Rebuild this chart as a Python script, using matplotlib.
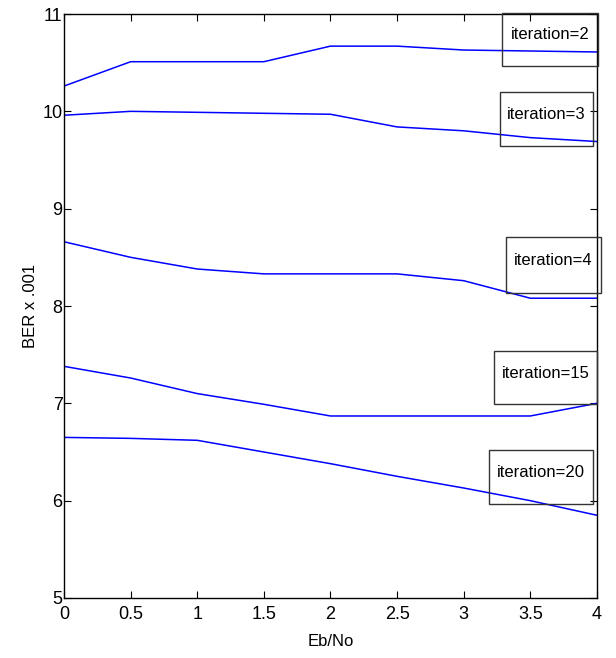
import numpy as np
import matplotlib.pyplot as plt
from matplotlib.patches import Rectangle

plt.rcParams['font.family'] = ['Liberation Sans', 'DejaVu Sans']

eb_no = [0, 0.5, 1, 1.5, 2, 2.5, 3, 3.5, 4]

ber_it2 = [10.26, 10.51, 10.51, 10.51, 10.67, 10.67, 10.63, 10.62, 10.61]
ber_it3 = [9.96, 10.0, 9.99, 9.98, 9.97, 9.84, 9.80, 9.73, 9.69]
ber_it4 = [8.66, 8.50, 8.38, 8.33, 8.33, 8.33, 8.26, 8.08, 8.08]
ber_it15 = [7.38, 7.26, 7.10, 6.99, 6.87, 6.87, 6.87, 6.87, 7.00]
ber_it20 = [6.65, 6.64, 6.62, 6.50, 6.38, 6.25, 6.13, 6.00, 5.85]

series = [ber_it2, ber_it3, ber_it4, ber_it15, ber_it20]
labels = ["iteration=2", "iteration=3", "iteration=4", "iteration=15", "iteration=20"]

# label boxes (x0, x1, y0, y1) in data units
boxes = [
    (3.29, 4.01, 10.47, 11.01),
    (3.27, 3.97, 9.64, 10.20),
    (3.32, 4.03, 8.13, 8.71),
    (3.23, 4.00, 6.99, 7.54),
    (3.19, 3.97, 5.97, 6.52),
]

fig = plt.figure(figsize=(6.16, 6.58), dpi=100)
ax = fig.add_axes([0.104, 0.0912, 0.865, 0.8875])

for ys in series:
    ax.plot(eb_no, ys, color=(0, 0, 1), lw=1.1)

for (x0, x1, y0, y1), lab in zip(boxes, labels):
    ax.add_patch(Rectangle((x0, y0), x1 - x0, y1 - y0, fill=False,
                           edgecolor='#333333', lw=1.0, clip_on=False, zorder=3))
    ax.text((x0 + x1) / 2, (y0 + y1) / 2 + 0.045, lab, ha='center', va='center',
            fontsize=12, color='black', zorder=4)

ax.set_xlim(0, 4)
ax.set_ylim(5, 11)
ax.set_xticks(np.arange(0, 4.01, 0.5))
ax.set_xticklabels(["0", "0.5", "1", "1.5", "2", "2.5", "3", "3.5", "4"])
ax.set_yticks(range(5, 12))
ax.tick_params(direction='in', top=True, right=True, labelsize=13, length=5)
ax.tick_params(axis='y', pad=1)
ax.tick_params(axis='x', pad=6)
ax.set_xlabel("Eb/No", fontsize=12, labelpad=8)
ax.set_ylabel("BER x .001", fontsize=12, labelpad=3)
for s in ax.spines.values():
    s.set_linewidth(1.0)

fig.savefig("out.png", dpi=100)
